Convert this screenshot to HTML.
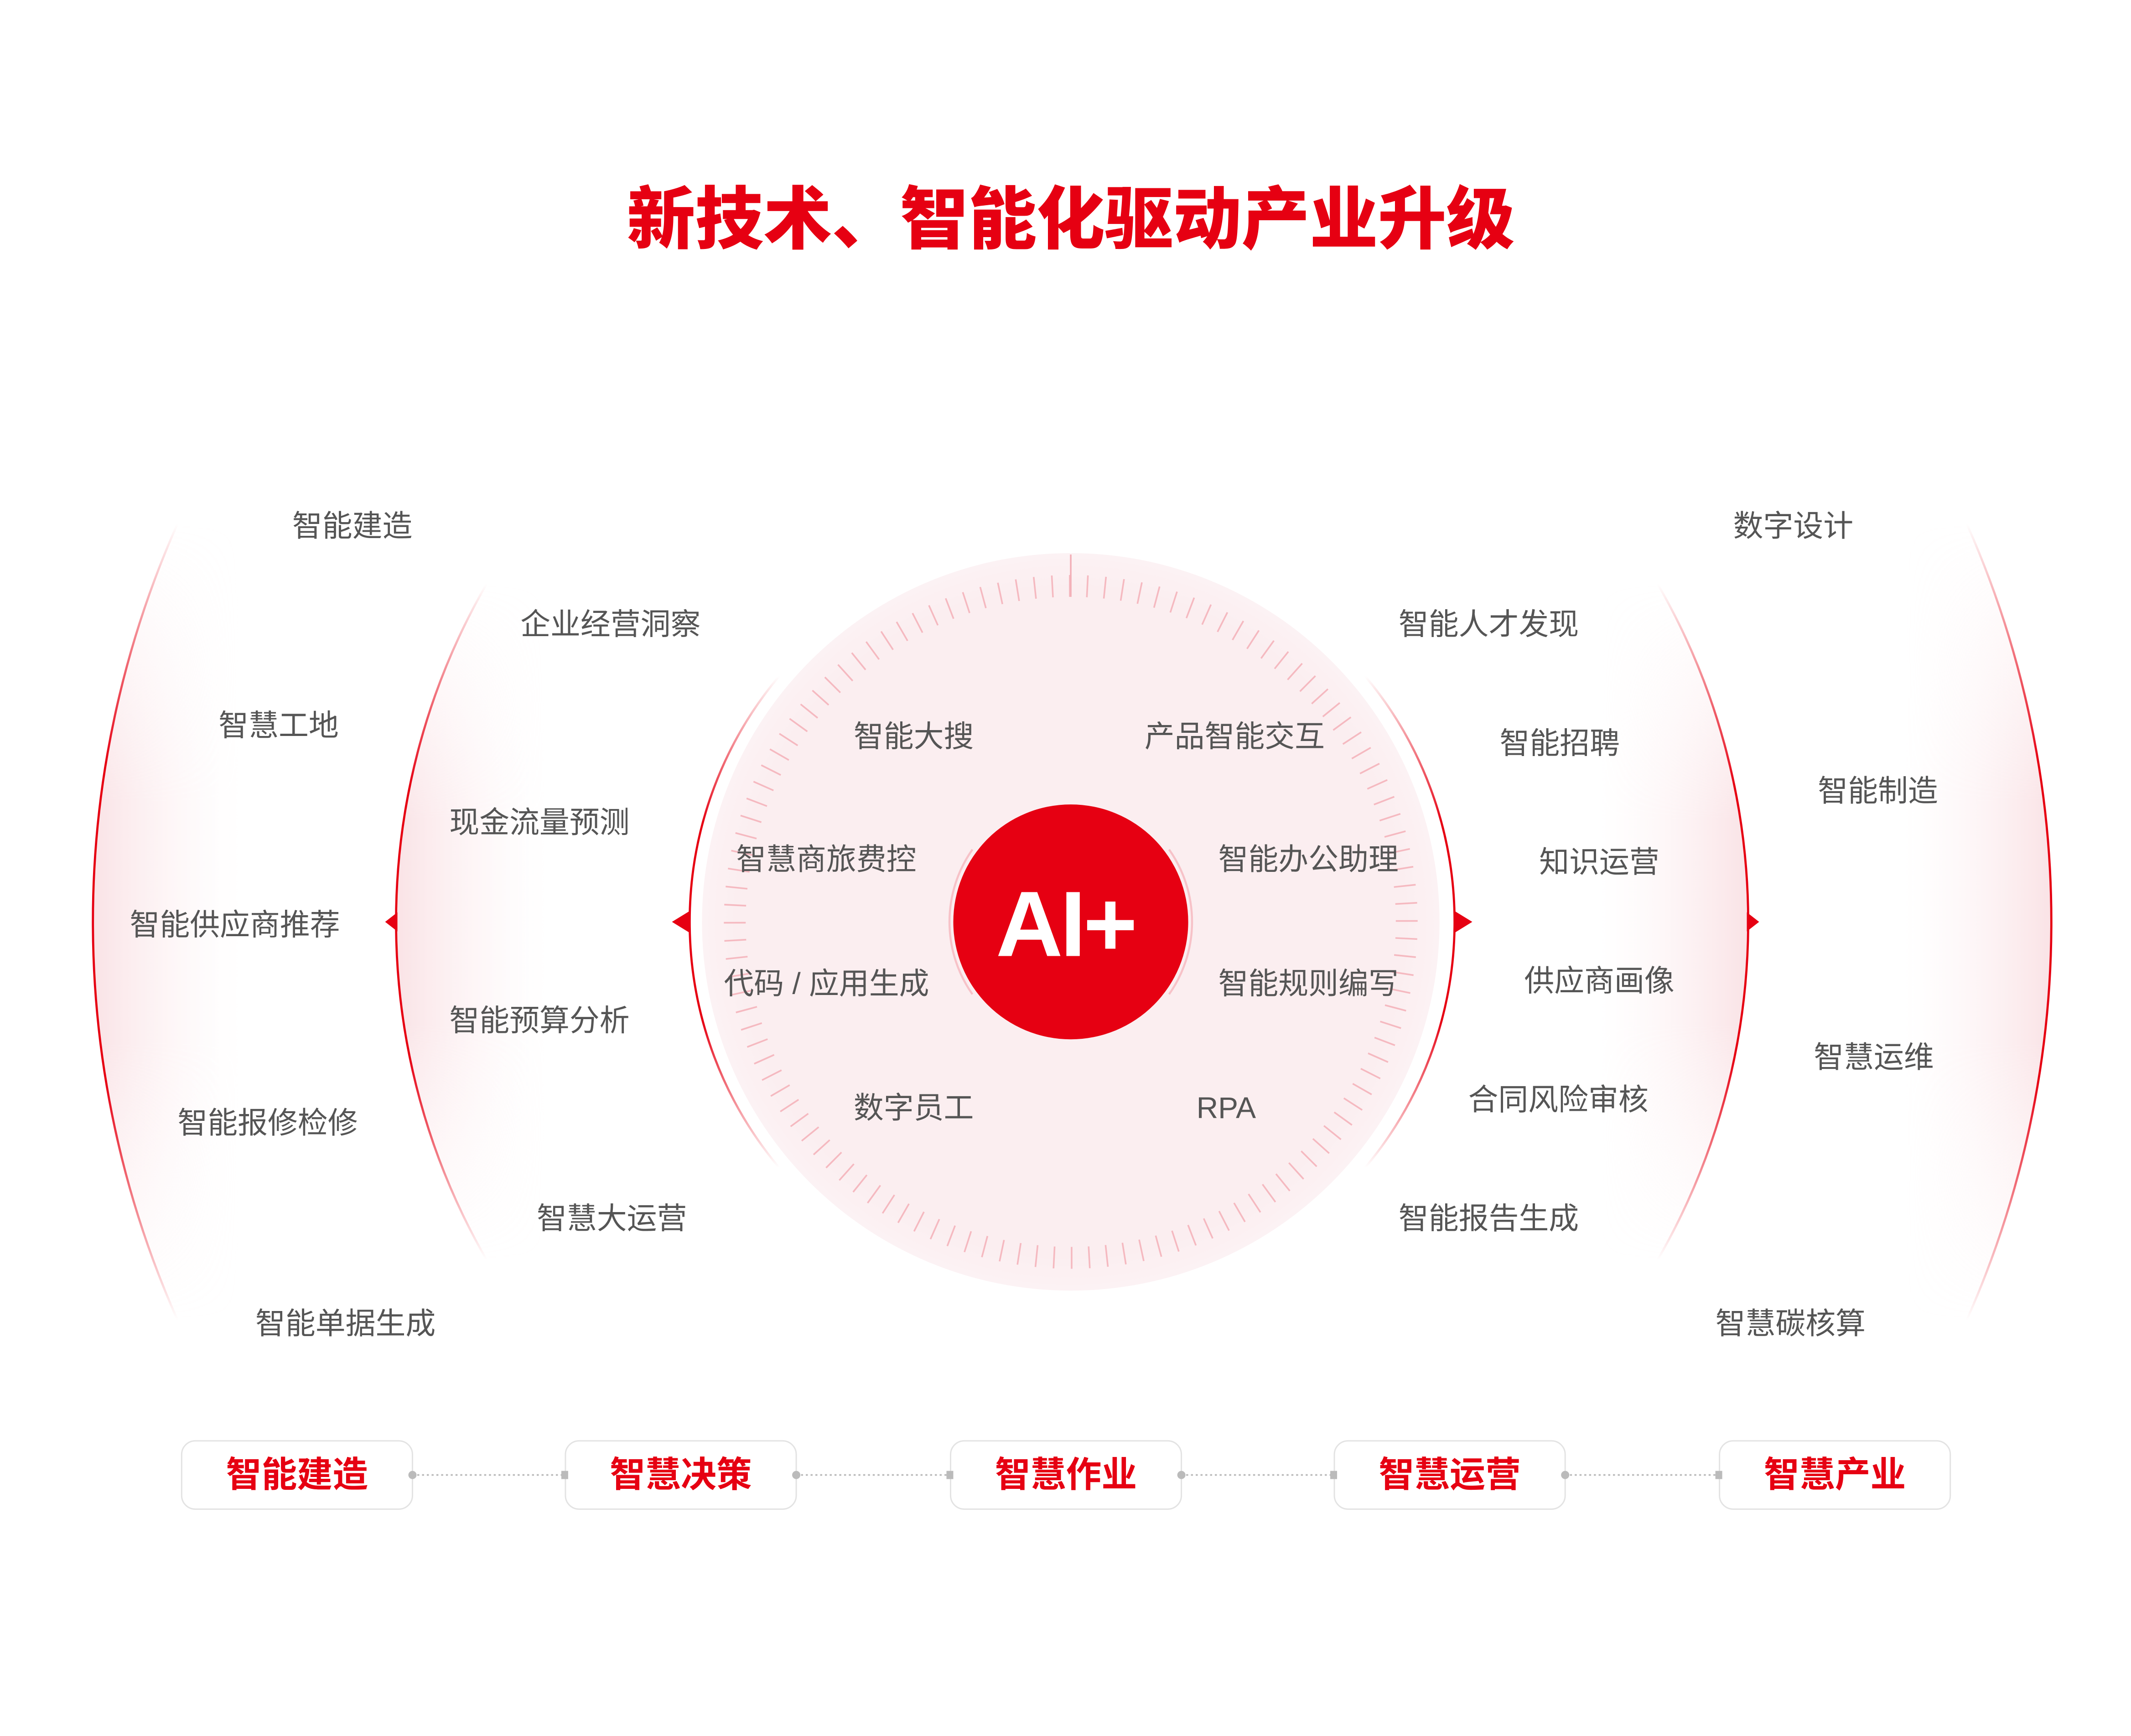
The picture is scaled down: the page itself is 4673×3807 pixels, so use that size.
<!DOCTYPE html>
<html><head><meta charset="utf-8"><style>
html,body{margin:0;padding:0;background:#fff;}
svg{display:block}
text{font-family:"Liberation Sans","Noto Sans CJK SC",sans-serif;}
</style></head><body>
<svg width="4673" height="3807" viewBox="0 0 1560.3 1271.1" xmlns="http://www.w3.org/2000/svg">
<defs>
<linearGradient id="sv" x1="0" y1="0" x2="0" y2="1">
<stop offset="0" stop-color="#e60012" stop-opacity="0"/>
<stop offset="0.3" stop-color="#e60012" stop-opacity="1"/>
<stop offset="0.7" stop-color="#e60012" stop-opacity="1"/>
<stop offset="1" stop-color="#e60012" stop-opacity="0"/>
</linearGradient>
<linearGradient id="wl" x1="0" y1="0" x2="1" y2="0">
<stop offset="0" stop-color="#f4c6cc" stop-opacity="0.5"/>
<stop offset="1" stop-color="#fde9ec" stop-opacity="0"/>
</linearGradient>
<linearGradient id="wr" x1="1" y1="0" x2="0" y2="0">
<stop offset="0" stop-color="#f4c6cc" stop-opacity="0.5"/>
<stop offset="1" stop-color="#fde9ec" stop-opacity="0"/>
</linearGradient>
<linearGradient id="mv" x1="0" y1="0" x2="0" y2="1">
<stop offset="0" stop-color="#fff" stop-opacity="0"/>
<stop offset="0.35" stop-color="#fff" stop-opacity="1"/>
<stop offset="0.65" stop-color="#fff" stop-opacity="1"/>
<stop offset="1" stop-color="#fff" stop-opacity="0"/>
</linearGradient>
<mask id="fade" maskContentUnits="objectBoundingBox">
<rect x="0" y="0" width="1" height="1" fill="url(#mv)"/>
</mask>
<radialGradient id="disc" cx="0.5" cy="0.5" r="0.5">
<stop offset="0.9" stop-color="#fbeef0"/>
<stop offset="1" stop-color="#fcf2f4"/>
</radialGradient>
</defs>

<text x="784" y="178" text-anchor="middle" font-size="50" font-weight="900" fill="#e60012" style="font-family:'Noto Sans CJK SC','WenQuanYi Zen Hei',sans-serif">新技术、智能化驱动产业升级</text>

<!-- washes -->
<path mask="url(#fade)" d="M130,383.4 A717,717 0 0 0 130,966.6 L175,966.6 L175,383.4 Z" fill="url(#wl)"/>
<path mask="url(#fade)" d="M356.3,427.5 A495,495 0 0 0 356.3,922.5 L400,922.5 L400,427.5 Z" fill="url(#wl)"/>
<path mask="url(#fade)" d="M1440,383.4 A717,717 0 0 1 1440,966.6 L1395,966.6 L1395,383.4 Z" fill="url(#wr)"/>
<path mask="url(#fade)" d="M1213.7,427.5 A495,495 0 0 1 1213.7,922.5 L1170,922.5 L1170,427.5 Z" fill="url(#wr)"/>

<!-- arcs -->
<g fill="none" stroke="url(#sv)" stroke-width="1.6">
<path d="M130,383.4 A717,717 0 0 0 130,966.6"/>
<path d="M356.3,427.5 A495,495 0 0 0 356.3,922.5"/>
<path d="M570.5,495 A280,280 0 0 0 570.5,855"/>
<path d="M1440,383.4 A717,717 0 0 1 1440,966.6"/>
<path d="M1213.7,427.5 A495,495 0 0 1 1213.7,922.5"/>
<path d="M999.5,495 A280,280 0 0 1 999.5,855"/>
</g>
<!-- arrowheads -->
<g fill="#e60012">
<path d="M282,675 L291,668 L291,682 Z"/>
<path d="M492,675 L505,667 L505,683 Z"/>
<path d="M1078,675 L1065,667 L1065,683 Z"/>
<path d="M1288,675 L1279,668 L1279,682 Z"/>
</g>

<!-- disc -->
<circle cx="784" cy="675" r="270" fill="url(#disc)"/>
<circle cx="784" cy="675" r="246" fill="none" stroke="#f5b9c0" stroke-width="16" stroke-dasharray="1.2 11.68" transform="rotate(-90.3 784 675)"/>
<line x1="784" y1="406" x2="784" y2="437" stroke="#f3b0b8" stroke-width="1.2"/>

<!-- center -->
<path d="M712,622 A92,92 0 0 0 712,728" fill="none" stroke="#f7c2c8" stroke-width="1.5"/>
<path d="M856,622 A92,92 0 0 1 856,728" fill="none" stroke="#f7c2c8" stroke-width="1.5"/>
<circle cx="784" cy="675" r="86" fill="#e60012"/>
<text x="780" y="700" text-anchor="middle" font-size="68" font-weight="bold" fill="#fff" letter-spacing="-2" style="font-family:'Liberation Sans',sans-serif">AI+</text>

<g font-size="22" fill="#555" dominant-baseline="central">
<text x="214" y="385">智能建造</text>
<text x="160" y="531">智慧工地</text>
<text x="95" y="677">智能供应商推荐</text>
<text x="130" y="822">智能报修检修</text>
<text x="187" y="969">智能单据生成</text>
<text x="381" y="457">企业经营洞察</text>
<text x="329" y="602">现金流量预测</text>
<text x="329" y="747">智能预算分析</text>
<text x="393" y="892">智慧大运营</text>
<text x="625" y="539">智能大搜</text>
<text x="838" y="539">产品智能交互</text>
<text x="539" y="629">智慧商旅费控</text>
<text x="892" y="629">智能办公助理</text>
<text x="530" y="720">代码 / 应用生成</text>
<text x="892" y="720">智能规则编写</text>
<text x="625" y="811">数字员工</text>
<text x="876" y="811">RPA</text>
<text x="1024" y="457">智能人才发现</text>
<text x="1098" y="544">智能招聘</text>
<text x="1127" y="631">知识运营</text>
<text x="1116" y="718">供应商画像</text>
<text x="1075" y="805">合同风险审核</text>
<text x="1024" y="892">智能报告生成</text>
<text x="1269" y="385">数字设计</text>
<text x="1331" y="579">智能制造</text>
<text x="1328" y="774">智慧运维</text>
<text x="1256" y="969">智慧碳核算</text>
</g>

<!-- bottom -->
<g stroke="#bbb" stroke-width="1.2" stroke-dasharray="1.5 2">
<line x1="302" y1="1080" x2="414" y2="1080"/>
<line x1="583" y1="1080" x2="696" y2="1080"/>
<line x1="865" y1="1080" x2="977" y2="1080"/>
<line x1="1146" y1="1080" x2="1259" y2="1080"/>
</g>
<g fill="#fff" stroke="#e3e3e3" stroke-width="1">
<rect x="133" y="1055" width="169" height="50" rx="10"/>
<rect x="414" y="1055" width="169" height="50" rx="10"/>
<rect x="696" y="1055" width="169" height="50" rx="10"/>
<rect x="977" y="1055" width="169" height="50" rx="10"/>
<rect x="1259" y="1055" width="169" height="50" rx="10"/>
</g>
<g fill="#bbb">
<circle cx="302" cy="1080" r="3"/><rect x="411" y="1077" width="5" height="6"/>
<circle cx="583" cy="1080" r="3"/><rect x="693" y="1077" width="5" height="6"/>
<circle cx="865" cy="1080" r="3"/><rect x="974" y="1077" width="5" height="6"/>
<circle cx="1146" cy="1080" r="3"/><rect x="1256" y="1077" width="5" height="6"/>
</g>
<g font-size="26" font-weight="bold" fill="#e60012" text-anchor="middle" dominant-baseline="central">
<text x="217.5" y="1080">智能建造</text>
<text x="498.5" y="1080">智慧决策</text>
<text x="780.5" y="1080">智慧作业</text>
<text x="1061.5" y="1080">智慧运营</text>
<text x="1343.5" y="1080">智慧产业</text>
</g>
</svg>
</body></html>
